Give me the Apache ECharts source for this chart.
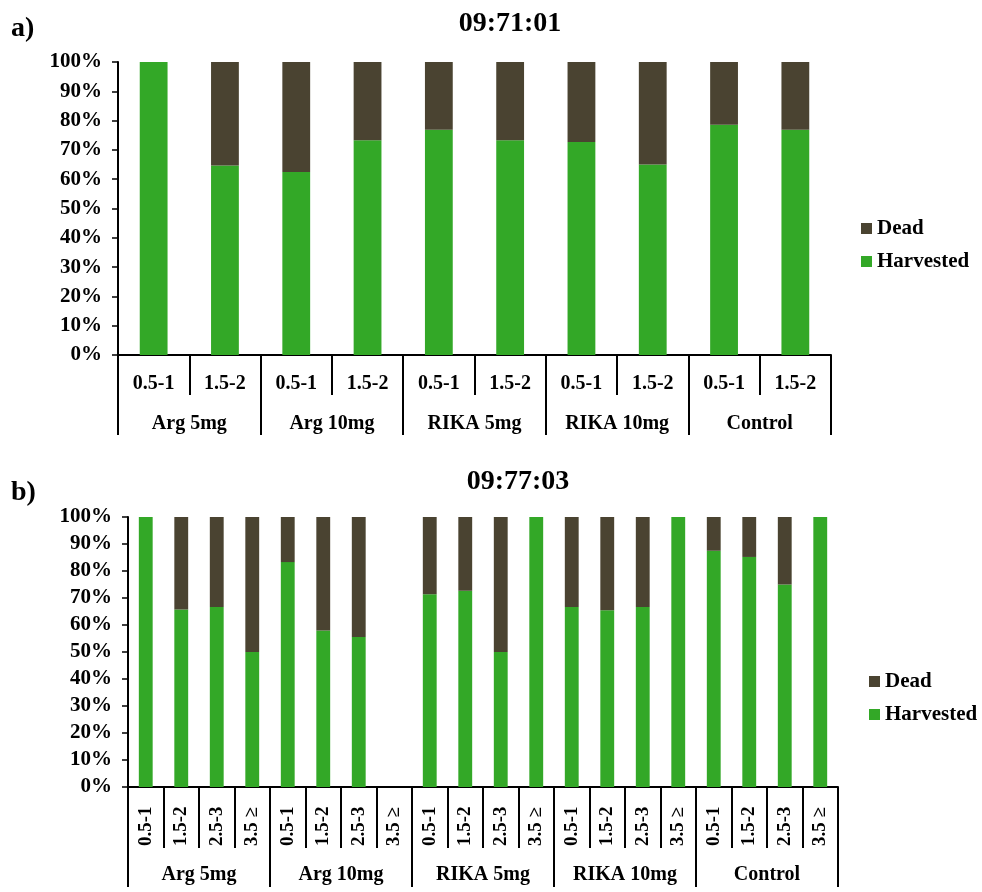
<!DOCTYPE html>
<html>
<head>
<meta charset="utf-8">
<script src="https://cdn.jsdelivr.net/npm/echarts@6/dist/echarts.min.js"></script>
<style>html,body{margin:0;padding:0;background:#fff;}#c{width:982px;height:892px;}</style>
</head>
<body>
<div id="c"></div>
<script>
// ---- Chart a) 09:71:01 ----
const titleA = '09:71:01';
const groupsA = ['Arg 5mg', 'Arg 10mg', 'RIKA 5mg', 'RIKA 10mg', 'Control'];
const sizesA = ['0.5-1', '1.5-2', '0.5-1', '1.5-2', '0.5-1', '1.5-2', '0.5-1', '1.5-2', '0.5-1', '1.5-2'];
const harvestedA = [100, 64.7, 62.5, 73.3, 76.9, 73.3, 72.7, 65.0, 78.6, 76.9];
const deadA = [0, 35.3, 37.5, 26.7, 23.1, 26.7, 27.3, 35.0, 21.4, 23.1];

// ---- Chart b) 09:77:03 ----
const titleB = '09:77:03';
const groupsB = ['Arg 5mg', 'Arg 10mg', 'RIKA 5mg', 'RIKA 10mg', 'Control'];
const sizesB = ['0.5-1', '1.5-2', '2.5-3', '3.5 ≥', '0.5-1', '1.5-2', '2.5-3', '3.5 ≥',
                '0.5-1', '1.5-2', '2.5-3', '3.5 ≥', '0.5-1', '1.5-2', '2.5-3', '3.5 ≥',
                '0.5-1', '1.5-2', '2.5-3', '3.5 ≥'];
const harvestedB = [100, 65.7, 66.7, 50, 83.3, 58.0, 55.6, null, 71.4, 72.7, 50, 100,
                    66.7, 65.5, 66.7, 100, 87.5, 85.2, 75, 100];
const deadB = [0, 34.3, 33.3, 50, 16.7, 42.0, 44.4, null, 28.6, 27.3, 50, 0,
               33.3, 34.5, 33.3, 0, 12.5, 14.8, 25, 0];

const yTicks = {min: 0, max: 100, interval: 10};
const seriesNames = ['Dead', 'Harvested'];

const FONT = 'Liberation Serif';
const GREEN = '#33a827';
const DARK = '#4a4331';
const BLACK = '#000';

const chart = echarts.init(document.getElementById('c'), null, {renderer: 'canvas'});

function txt(size) {
  return {fontFamily: FONT, fontWeight: 'bold', fontSize: size, color: BLACK};
}

function yAxis(gi) {
  return {
    type: 'value', gridIndex: gi, min: yTicks.min, max: yTicks.max, interval: yTicks.interval,
    axisLine: {show: true, lineStyle: {color: BLACK, width: 2}},
    axisTick: {show: true, length: 6, lineStyle: {color: BLACK, width: 1.5}},
    splitLine: {show: false},
    axisLabel: Object.assign({formatter: '{value}%', margin: 16}, txt(21))
  };
}

const option = {
  animation: false,
  backgroundColor: '#fff',
  graphic: [
    {type: 'text', left: 11, top: 15, style: Object.assign({text: 'a)'}, txt(28), {fill: BLACK})},
    {type: 'text', x: 510, y: 24, style: Object.assign({text: titleA, align: 'center', verticalAlign: 'middle'}, txt(28), {fill: BLACK})},
    {type: 'text', left: 11, top: 479, style: Object.assign({text: 'b)'}, txt(28), {fill: BLACK})},
    {type: 'text', x: 518, y: 482, style: Object.assign({text: titleB, align: 'center', verticalAlign: 'middle'}, txt(28), {fill: BLACK})}
  ],
  legend: [
    {data: seriesNames, orient: 'vertical', left: 856, top: 213, itemWidth: 11, itemHeight: 11, itemGap: 12,
     icon: 'rect', selectedMode: false, textStyle: txt(21)},
    {data: seriesNames, orient: 'vertical', left: 864, top: 666, itemWidth: 11, itemHeight: 11, itemGap: 12,
     icon: 'rect', selectedMode: false, textStyle: txt(21)}
  ],
  grid: [
    {left: 118, top: 62, right: 151, height: 293, containLabel: false},
    {left: 128, top: 517, right: 144, height: 270, containLabel: false}
  ],
  xAxis: [
    {type: 'category', gridIndex: 0, data: sizesA, position: 'bottom',
     axisLine: {show: true, lineStyle: {color: BLACK, width: 2}},
     axisTick: {show: true, interval: 0, length: 40, lineStyle: {color: BLACK, width: 2}},
     axisLabel: Object.assign({interval: 0, margin: 19}, txt(20))},
    {type: 'category', gridIndex: 0, data: groupsA, position: 'bottom',
     axisLine: {show: false},
     axisTick: {show: true, interval: 0, length: 80, lineStyle: {color: BLACK, width: 2}},
     axisLabel: Object.assign({interval: 0, margin: 59}, txt(20))},
    {type: 'category', gridIndex: 1, data: sizesB, position: 'bottom',
     axisLine: {show: true, lineStyle: {color: BLACK, width: 2}},
     axisTick: {show: true, interval: 0, length: 61, lineStyle: {color: BLACK, width: 2}},
     axisLabel: Object.assign({interval: 0, margin: 59, rotate: 90, align: 'left', verticalAlign: 'middle'}, txt(19))},
    {type: 'category', gridIndex: 1, data: groupsB, position: 'bottom',
     axisLine: {show: false},
     axisTick: {show: true, interval: 0, length: 100, lineStyle: {color: BLACK, width: 2}},
     axisLabel: Object.assign({interval: 0, margin: 78}, txt(20))}
  ],
  yAxis: [yAxis(0), yAxis(1)],
  series: [
    {name: 'Harvested', type: 'bar', stack: 'a', xAxisIndex: 0, yAxisIndex: 0, data: harvestedA,
     barWidth: '39%', itemStyle: {color: GREEN}},
    {name: 'Dead', type: 'bar', stack: 'a', xAxisIndex: 0, yAxisIndex: 0, data: deadA,
     barWidth: '39%', itemStyle: {color: DARK}},
    {name: 'Harvested', type: 'bar', stack: 'b', xAxisIndex: 2, yAxisIndex: 1, data: harvestedB,
     barWidth: '39%', itemStyle: {color: GREEN}},
    {name: 'Dead', type: 'bar', stack: 'b', xAxisIndex: 2, yAxisIndex: 1, data: deadB,
     barWidth: '39%', itemStyle: {color: DARK}}
  ]
};
chart.setOption(option);
</script>
</body>
</html>
